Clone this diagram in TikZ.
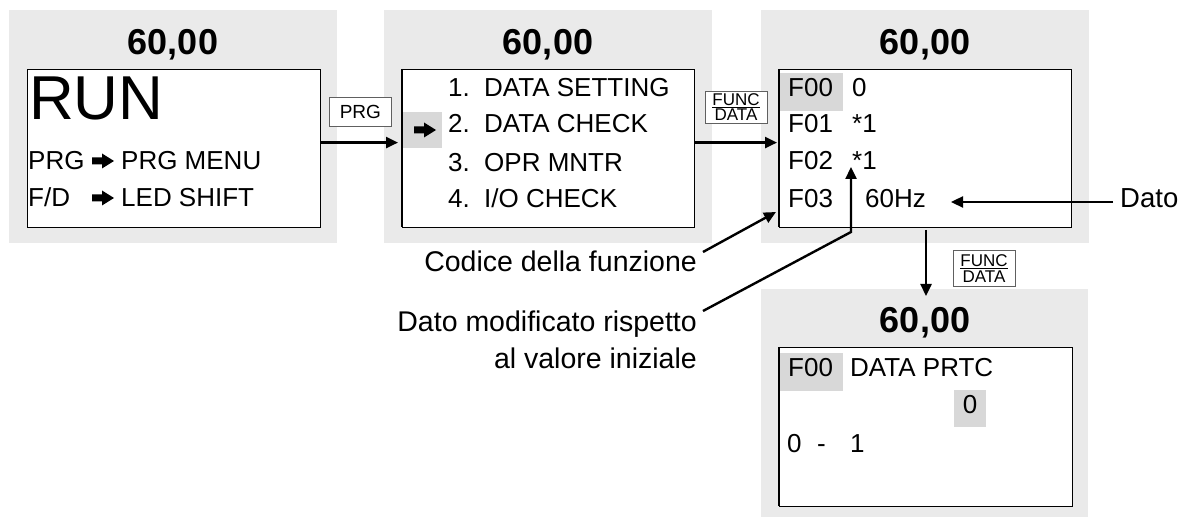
\documentclass[tikz,border=0pt]{standalone}
\usepackage{fontspec}
\setmainfont{Liberation Sans}
\usetikzlibrary{arrows.meta}
\definecolor{panelgray}{HTML}{EAEAEA}
\definecolor{hlgray}{HTML}{D8D8D8}
\definecolor{keyborder}{HTML}{606060}
\begin{document}
\begin{tikzpicture}[x=1pt,y=-1pt,
  panel/.style={fill=panelgray, draw=none, anchor=north west, inner sep=0},
  screen/.style={fill=white, draw=black, line width=1.2pt, anchor=north west, inner sep=0},
  hl/.style={fill=hlgray, draw=none, anchor=north west, inner sep=0},
  title/.style={anchor=base, inner sep=0, font=\bfseries\fontsize{36}{36}\selectfont},
  txt/.style={anchor=base west, inner sep=0, font=\fontsize{26}{26}\selectfont},
  note/.style={anchor=base east, inner sep=0, font=\fontsize{28.5}{28.5}\selectfont},
  key/.style={fill=white, draw=keyborder, line width=0.8pt, anchor=north west, inner sep=0},
  keytxt/.style={inner sep=0, font=\fontsize{17}{17}\selectfont},
  arr/.style={line width=2.4pt, -{Triangle[length=12pt,width=11pt]}},
  fat/.style={fill=black, draw=none}
]
\useasboundingbox (0,0) rectangle (1188,518);
\newcommand\fatarrow[2]{\fill[fat] (#1,#2-3.5) -- ++(10,0) -- ++(0,-4) -- ++(12,7.5) -- ++(-12,7.5) -- ++(0,-4) -- ++(-10,0) -- cycle;}

% ---------- panel 1
\node[panel, minimum width=328pt, minimum height=233pt] (p1) at (9,10) {};
\node[screen, minimum width=293pt, minimum height=158pt] (w1) at (27,69) {};
\node[title] (t1) at (173,55) {60,00};
\node[anchor=base west, inner sep=0, font=\fontsize{62}{62}\selectfont] (run) at (29,120) {RUN};
\node[txt] (a1) at (28,170) {PRG};
\fatarrow{92}{161}
\node[txt] (a2) at (121,170) {PRG MENU};
\node[txt] (b1) at (28,207) {F/D};
\fatarrow{92}{198}
\node[txt] (b2) at (121,207) {LED SHIFT};

% ---------- panel 2
\node[panel, minimum width=328pt, minimum height=233pt] (p2) at (384,10) {};
\node[screen, minimum width=292pt, minimum height=158pt] (w2) at (402,69) {};
\node[hl, minimum width=39pt, minimum height=36pt] (h2) at (402.6,112) {};
\draw[line width=1.2pt] (402,69) -- (402,227);
\node[title] (t2) at (548,55) {60,00};
\fatarrow{414}{130}
\node[txt] (m1) at (448,97) {1.};
\node[txt] (n1) at (484,97) {DATA SETTING};
\node[txt] (m2) at (448,133) {2.};
\node[txt] (n2) at (484,133) {DATA CHECK};
\node[txt] (m3) at (448,172) {3.};
\node[txt] (n3) at (484,172) {OPR MNTR};
\node[txt] (m4) at (448,208) {4.};
\node[txt] (n4) at (484,208) {I/O CHECK};

% ---------- panel 3
\node[panel, minimum width=328pt, minimum height=233pt] (p3) at (761,10) {};
\node[screen, minimum width=292pt, minimum height=158pt] (w3) at (779,69) {};
\node[hl, minimum width=63pt, minimum height=38pt] (h3) at (779.6,73) {};
\draw[line width=1.2pt] (779,69) -- (779,227);
\node[title] (t3) at (925,55) {60,00};
\node[txt] (f0) at (788,97) {F00};
\node[txt] (v0) at (852,97) {0};
\node[txt] (f1) at (788,133) {F01};
\node[txt] (v1) at (852,133) {*1};
\node[txt] (f2) at (788,170) {F02};
\node[txt] (v2) at (852,170) {*1};
\node[txt] (f3) at (788,208) {F03};
\node[txt] (v3) at (865,208) {60Hz};

% ---------- panel 4
\node[panel, minimum width=327pt, minimum height=228pt] (p4) at (761,289) {};
\node[screen, minimum width=293pt, minimum height=159pt] (w4) at (779,347) {};
\node[hl, minimum width=63pt, minimum height=38pt] (h4) at (779.6,353) {};
\node[hl, minimum width=32pt, minimum height=37pt] (h5) at (954,390) {};
\draw[line width=1.2pt] (779,347) -- (779,506);
\node[title] (t4) at (925,333) {60,00};
\node[txt] (g0) at (788,377) {F00};
\node[txt] (g1) at (850,377) {DATA PRTC};
\node[txt, anchor=base] (g2) at (970,413) {0};
\node[txt] (g3) at (787,452) {0};
\node[txt] (g4) at (817,452) {-};
\node[txt] (g5) at (850,452) {1};

% ---------- keys
\node[key, minimum width=62pt, minimum height=29pt] (k1) at (329,97) {};
\node[keytxt, font=\fontsize{19}{19}\selectfont] (k1t) at (k1.center) {PRG};
\node[key, minimum width=62pt, minimum height=32pt] (k2) at (705,91) {};
\node[keytxt, anchor=base] (k2a) at (736,106) {FUNC};
\node[keytxt, anchor=base] (k2b) at (736,121) {DATA};
\draw[line width=0.8pt] (k2a.south west) ++(0,1.5) -- ++(48,0);
\node[key, minimum width=62pt, minimum height=36pt] (k3) at (953,250) {};
\node[keytxt, anchor=base] (k3a) at (984,267) {FUNC};
\node[keytxt, anchor=base] (k3b) at (984,283) {DATA};
\draw[line width=0.8pt] (k3a.south west) ++(0,1.5) -- ++(48,0);

% ---------- connectors
\coordinate (dstart) at (926,230);
\coordinate (dend) at (926,296);
\draw[arr, shorten >=4pt] ([yshift=6pt]w1.east) -- ([yshift=6pt]w2.west);
\draw[arr, shorten >=2pt] ([yshift=6pt]w2.east) -- ([yshift=6pt]w3.west);
\draw[arr] (dstart) -- (dend);

% ---------- annotations
\node[note] (c1) at (697,272) {Codice della funzione};
\node[note] (d1) at (697,332) {Dato modificato rispetto};
\node[note] (d2) at (697,368) {al valore iniziale};
\node[anchor=base west, inner sep=0, font=\fontsize{27.5}{27.5}\selectfont] (dato) at (1120,208) {Dato};
\coordinate (codtail) at (703,252);
\coordinate (codtip) at (776,212);
\coordinate (modtail) at (703,311);
\coordinate (bend) at (851,232);
\coordinate (modtip) at (851,167);
\coordinate (datotip) at (951,202);
\draw[arr] (codtail) -- (codtip);
\draw[arr] (modtail) -- (bend) -- (modtip);
\draw[arr] (dato.west |- datotip) ++(-7,0) -- (datotip);
\end{tikzpicture}
\end{document}
